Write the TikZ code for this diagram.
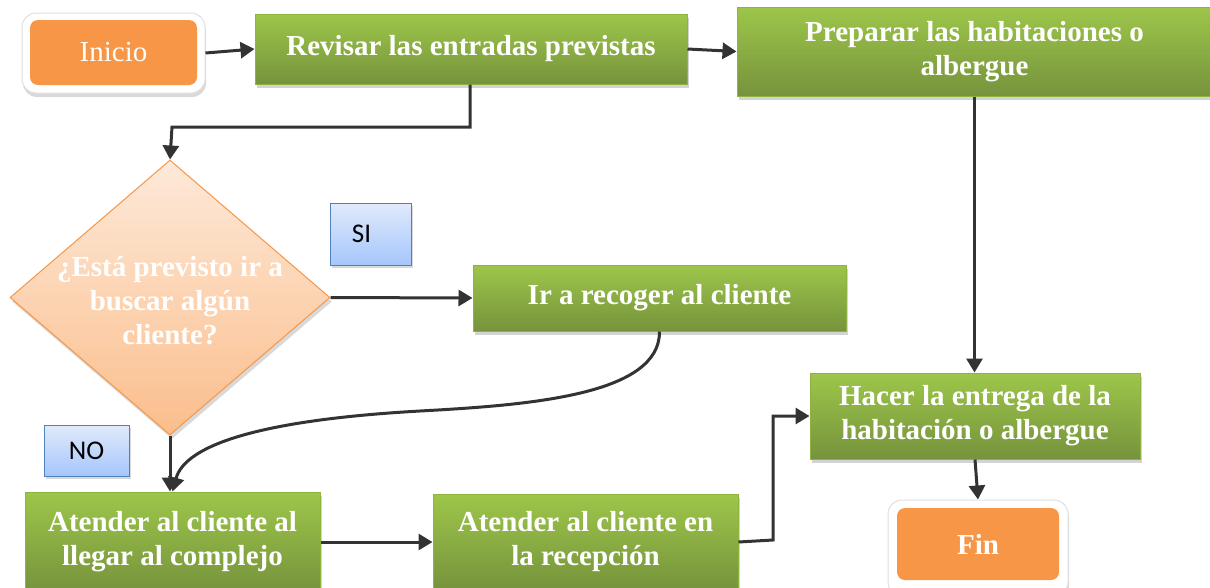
\documentclass[tikz,border=0pt]{standalone}
\usepackage{fontspec}
\setmainfont{Liberation Serif}
\newfontfamily\calib{Carlito}
\usetikzlibrary{shapes.geometric,shadows,arrows.meta}
\definecolor{gtop}{HTML}{9DC64A}
\definecolor{gbot}{HTML}{76933C}
\definecolor{gborder}{HTML}{8DB43E}
\definecolor{orng}{HTML}{F79646}
\definecolor{ptop}{HTML}{FDE9D9}
\definecolor{pbot}{HTML}{FBBE8C}
\definecolor{btop}{HTML}{E0EAFB}
\definecolor{bbot}{HTML}{A5C6FC}
\definecolor{bborder}{HTML}{4F81BD}
\definecolor{arr}{HTML}{333333}
\tikzset{
  greenbox/.style={draw=gborder, line width=1pt, top color=gtop, bottom color=gbot,
    text=white, font=\fontsize{29}{34}\selectfont\bfseries, align=center, inner sep=0pt,
    drop shadow={shadow xshift=2pt, shadow yshift=-4pt, opacity=0.35}},
  termouter/.style={draw=black!12, line width=1pt, fill=white, rounded corners=14pt, inner sep=0pt,
    drop shadow={shadow xshift=1pt, shadow yshift=-4pt, opacity=0.3}},
  terminner/.style={fill=orng, rounded corners=8pt, text=white, inner sep=0pt, align=center},
  labelbox/.style={draw=bborder, line width=1pt, top color=btop, bottom color=bbot,
    font=\calib\fontsize{27}{30}\selectfont, inner sep=0pt,
    drop shadow={shadow xshift=2pt, shadow yshift=-3pt, opacity=0.3}},
  diam/.style={diamond, draw=orng, line width=1pt, top color=ptop, bottom color=pbot,
    inner sep=0pt, minimum width=320pt, minimum height=275pt,
    drop shadow={shadow xshift=2pt, shadow yshift=-4pt, opacity=0.3}},
  flow/.style={draw=arr, line width=3pt, -{Triangle[length=14pt,width=16pt]}}
}
\begin{document}
\begin{tikzpicture}[x=1pt,y=-1pt]
\useasboundingbox (0,0) rectangle (1210,587);
% terminals
\node[termouter, minimum width=183pt, minimum height=80pt] (ino) at (113.5,53) {};
\node[terminner, minimum width=167pt, minimum height=65pt, font=\fontsize{29}{34}\selectfont] (inicio) at (113.5,52.5) {Inicio};
\node[termouter, minimum width=180pt, minimum height=96pt] (fino) at (978,548) {};
\node[terminner, minimum width=162pt, minimum height=72pt, font=\fontsize{29}{34}\selectfont\bfseries] (fin) at (978,544) {Fin};
% process boxes
\node[greenbox, minimum width=432pt, minimum height=70pt] (rev) at (471,49) {Revisar las entradas previstas};
\node[greenbox, minimum width=475pt, minimum height=89pt] (prep) at (974.5,51.5) {Preparar las habitaciones o\\albergue};
\node[greenbox, minimum width=373pt, minimum height=66pt] (ir) at (659.5,298) {Ir a recoger al cliente};
\node[greenbox, minimum width=295pt, minimum height=100pt] (at1) at (172.5,542) {Atender al cliente al\\llegar al complejo};
\node[greenbox, minimum width=305pt, minimum height=96pt] (at2) at (585.5,542) {Atender al cliente en\\la recepción};
\node[greenbox, minimum width=330pt, minimum height=86pt] (hac) at (975,416) {Hacer la entrega de la\\habitación o albergue};
% decision
\node[diam] (dec) at (170,297.5) {};
\node[text=white, font=\fontsize{29}{34}\selectfont\bfseries, align=center] (dect) at (170,301) {¿Está previsto ir a\\buscar algún\\cliente?};
% labels
\node[labelbox, minimum width=81pt, minimum height=62pt] (si) at (370.5,234) {SI\kern18pt};
\node[labelbox, minimum width=85pt, minimum height=51pt] (no) at (86.5,450.5) {NO};
% connectors
\coordinate (r1) at (470,127);
\coordinate (r2) at (172,127);
\coordinate (h1) at (773,540);
\coordinate (h2) at (773,416);
\coordinate (mid) at (420,411);
\draw[flow] (ino.east) -- (rev.west);
\draw[flow] (rev.east) -- (prep.west);
\draw[flow] (rev.south -| r1) -- (r1) -- (r2) -- (dec.north);
\draw[flow] (dec.east) -- (ir.west);
\draw[flow] (dec.south) -- (at1.north -| dec.south);
\draw[flow] (ir.south) .. controls (660,395) and (530,405) .. (mid) .. controls (260,420) and (185,445) .. (at1.north);
\draw[flow] (at1.east) -- (at2.west);
\draw[flow] (at2.east -| at2.east) -- (h1) -- (h2) -- (hac.west);
\draw[flow] (prep.south) -- (hac.north -| prep.south);
\draw[flow] (hac.south) -- (fino.north);
\end{tikzpicture}
\end{document}
